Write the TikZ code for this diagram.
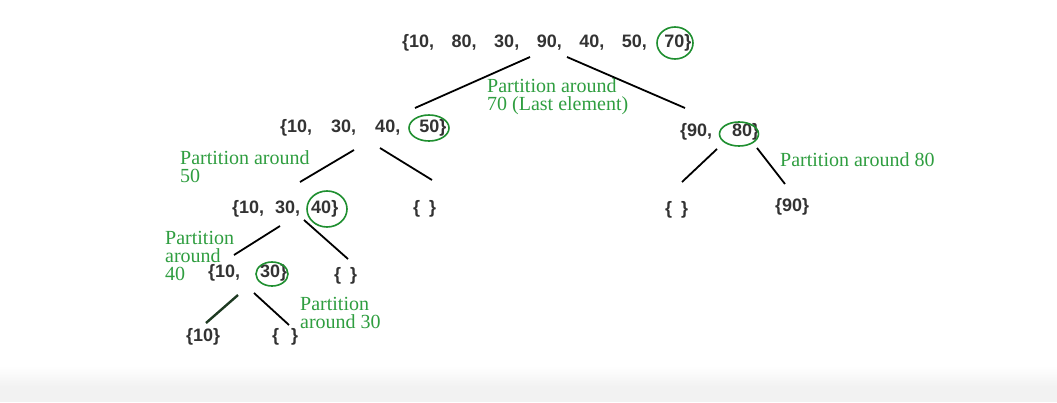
\documentclass[tikz,border=0pt]{standalone}
\usepackage{fontspec}
\setmainfont{Liberation Serif}
\newfontfamily\setfont{Liberation Sans}
\usetikzlibrary{shapes.geometric,calc}
\definecolor{lblgreen}{HTML}{2F9E40}
\definecolor{ringgreen}{HTML}{1F8F30}
\definecolor{settext}{HTML}{333333}
\definecolor{darkedge}{HTML}{1E3A22}
\begin{document}
\begin{tikzpicture}[x=1pt,y=-1pt,
  setnode/.style={anchor=west,inner sep=0pt,text=settext,font=\setfont\bfseries\fontsize{18}{18}\selectfont},
  lbl/.style={anchor=west,inner sep=0pt,text=lblgreen,align=left,font=\fontsize{20}{18}\selectfont},
  ring/.style={ellipse,draw=ringgreen,line width=1.6pt,inner sep=0pt},
  edge/.style={draw=black,line width=1.8pt}]
\useasboundingbox (0,0) rectangle (1057,402);
\fill[white] (0,0) rectangle (1057,402);
\shade[top color=white,bottom color=black!5] (0,366) rectangle (1057,386);
\fill[black!5] (0,386) rectangle (1057,402);

% sets
\node[setnode] (root) at (402,43) {\{10,\hspace{17.5pt}80,\hspace{17.5pt}30,\hspace{17.5pt}90,\hspace{17.5pt}40,\hspace{17.5pt}50,\hspace{17.5pt}70\}};
\node[setnode] (n50) at (280,128) {\{10,\hspace{19pt}30,\hspace{19pt}40,\hspace{19pt}50\}};
\node[setnode] (n80) at (680,132) {\{90,\hspace{20pt}80\}};
\node[setnode] (n40) at (232,209) {\{10,\hspace{11pt}30,\hspace{11pt}40\}};
\node[setnode] (e50) at (413,209) {\{\hspace{9pt}\}};
\node[setnode] (n30) at (208,273) {\{10,\hspace{20pt}30\}};
\node[setnode] (e40) at (334,276) {\{\hspace{9pt}\}};
\node[setnode] (n10) at (186,337) {\{10\}};
\node[setnode] (e30) at (272,337) {\{\hspace{12pt}\}};
\node[setnode] (e80) at (665,210) {\{\hspace{9pt}\}};
\node[setnode] (n90) at (775,207) {\{90\}};

% rings
\node[ring,minimum width=36pt,minimum height=32pt] (c70) at (675,43) {};
\node[ring,minimum width=40pt,minimum height=26pt] (c50) at (429,128) {};
\node[ring,minimum width=39pt,minimum height=24pt] (c80) at (739,134) {};
\node[ring,minimum width=40pt,minimum height=36pt] (c40) at (327,209) {};
\node[ring,minimum width=32pt,minimum height=24pt] (c30) at (272,274) {};

% labels
\node[lbl] (l70) at (487,97) {Partition around\\70 (Last element)};
\node[lbl] (l50) at (180,167) {Partition around\\50};
\node[lbl] (l80) at (780,160) {Partition around 80};
\node[lbl] (l40) at (165,256) {Partition\\around\\40};
\node[lbl] (l30) at (300,313) {Partition\\around 30};

% edges
\draw[edge] ($(root.west)+(128,14)$) -- ($(n50.west)+(135,-20)$);
\draw[edge] ($(root.west)+(165,14)$) -- ($(n80.west)+(5,-24)$);
\draw[edge] ($(n50.west)+(74,22)$) -- ($(n40.west)+(68,-27)$);
\draw[edge] ($(n50.west)+(100,20)$) -- ($(e50.west)+(19,-29)$);
\draw[edge] ($(n80.west)+(37,17)$) -- ($(e80.west)+(17,-28)$);
\draw[edge] ($(n80.west)+(77,16)$) -- ($(n90.west)+(10,-23)$);
\draw[edge] ($(n40.west)+(48,17)$) -- ($(n30.west)+(26,-18)$);
\draw[edge] ($(n40.west)+(72,11)$) -- ($(e40.west)+(14,-17)$);
\draw[edge,draw=darkedge,line width=2.4pt] ($(n30.west)+(30,22)$) -- ($(n10.west)+(20,-14)$);
\draw[edge] ($(n30.west)+(46,20)$) -- ($(e30.west)+(17,-12)$);
\end{tikzpicture}
\end{document}
